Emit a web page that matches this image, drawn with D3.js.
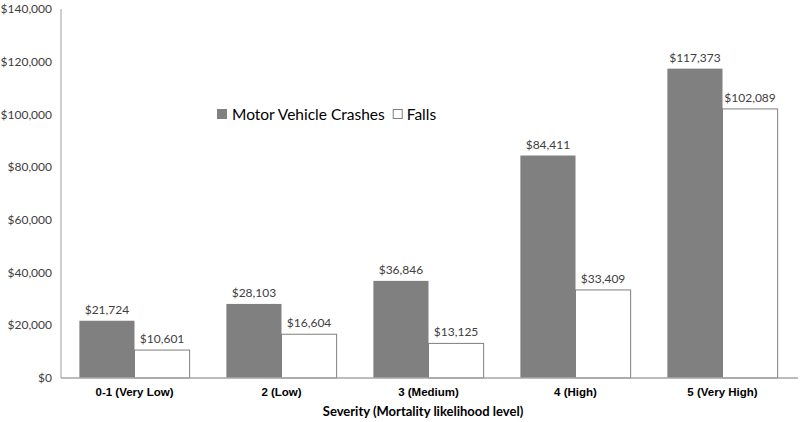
<!DOCTYPE html>
<html lang="en">
<head>
<meta charset="utf-8">
<script src="https://d3js.org/d3.v7.min.js"></script>
<style>
  body { margin: 0; background: #fff; }
  text { fill: #404040; }
</style>
</head>
<body>
<script>
var categories = ["0-1 (Very Low)", "2 (Low)", "3 (Medium)", "4 (High)", "5 (Very High)"];
var motorVehicle = [21724, 28103, 36846, 84411, 117373];
var falls = [10601, 16604, 13125, 33409, 102089];
var seriesNames = ["Motor Vehicle Crashes", "Falls"];
var yTicks = [0, 20000, 40000, 60000, 80000, 100000, 120000, 140000];

var width = 800, height = 422;
var plotLeft = 61, plotRight = 796, plotTop = 9, plotBottom = 378;

var svg = d3.select("body").append("svg")
    .attr("width", width)
    .attr("height", height);

var x = d3.scaleBand()
    .domain(categories)
    .range([plotLeft, plotRight])
    .paddingInner(0.25)
    .paddingOuter(0.125);

var inner = d3.scaleBand()
    .domain(seriesNames)
    .range([0, x.bandwidth()]);

var y = d3.scaleLinear()
    .domain([0, 140000])
    .range([plotBottom, plotTop]);

var money = function(v) { return "$" + d3.format(",")(v); };

// y axis
svg.append("line")
    .attr("x1", plotLeft).attr("x2", plotLeft)
    .attr("y1", y(140000)).attr("y2", plotBottom)
    .attr("stroke", "#bfbfbf").attr("stroke-width", 1.5);

svg.selectAll(".ytick")
    .data(yTicks)
    .enter().append("text")
    .attr("class", "ytick")
    .attr("x", 52)
    .attr("y", function(d) { return y(d); })
    .attr("dy", "0.35em")
    .attr("text-anchor", "end")
    .attr("font-family", "Lato")
    .attr("font-size", 12)
    .text(money);

var series = [motorVehicle, falls];
var fills = ["#808080", "#ffffff"];

series.forEach(function(vals, s) {
    var g = svg.append("g");
    g.selectAll("rect")
        .data(vals)
        .enter().append("rect")
        .attr("x", function(d, i) { return x(categories[i]) + inner(seriesNames[s]); })
        .attr("y", function(d) { return y(d); })
        .attr("width", inner.bandwidth())
        .attr("height", function(d) { return plotBottom - y(d); })
        .attr("fill", fills[s])
        .attr("stroke", s === 0 ? "none" : "#7f7f7f")
        .attr("stroke-width", 1);

    g.selectAll("text")
        .data(vals)
        .enter().append("text")
        .attr("x", function(d, i) { return x(categories[i]) + inner(seriesNames[s]) + inner.bandwidth() / 2; })
        .attr("y", function(d) { return y(d) - 7; })
        .attr("text-anchor", "middle")
        .attr("font-family", "Lato")
        .attr("font-size", 12)
        .text(money);
});

// x axis baseline
svg.append("line")
    .attr("x1", plotLeft).attr("x2", plotRight + 2)
    .attr("y1", plotBottom).attr("y2", plotBottom)
    .attr("stroke", "#a6a6a6").attr("stroke-width", 1.5);

svg.selectAll(".xlabel")
    .data(categories)
    .enter().append("text")
    .attr("class", "xlabel")
    .attr("x", function(d) { return x(d) + x.bandwidth() / 2; })
    .attr("y", 396)
    .attr("text-anchor", "middle")
    .attr("font-family", "Liberation Sans")
    .attr("font-weight", "bold")
    .attr("font-size", 11.5)
    .style("fill", "#000")
    .text(function(d) { return d; });

svg.append("text")
    .attr("x", 423)
    .attr("y", 416)
    .attr("text-anchor", "middle")
    .attr("font-family", "Lato")
    .attr("font-weight", "bold")
    .attr("font-size", 13)
    .style("fill", "#000")
    .text("Severity (Mortality likelihood  level)");

// legend
var legend = svg.append("g");
legend.append("rect")
    .attr("x", 217).attr("y", 109).attr("width", 10).attr("height", 10)
    .attr("fill", "#808080");
var t1 = legend.append("text")
    .attr("x", 232).attr("y", 120)
    .attr("font-family", "Lato").attr("font-size", 15.5)
    .style("fill", "#000")
    .text(seriesNames[0]);
var end1 = 232 + t1.node().getComputedTextLength();
legend.append("rect")
    .attr("x", end1 + 8.5).attr("y", 109.5).attr("width", 9).attr("height", 9)
    .attr("fill", "#fff").attr("stroke", "#7f7f7f");
legend.append("text")
    .attr("x", end1 + 22).attr("y", 120)
    .attr("font-family", "Lato").attr("font-size", 15.5)
    .style("fill", "#000")
    .text(seriesNames[1]);
</script>
</body>
</html>
